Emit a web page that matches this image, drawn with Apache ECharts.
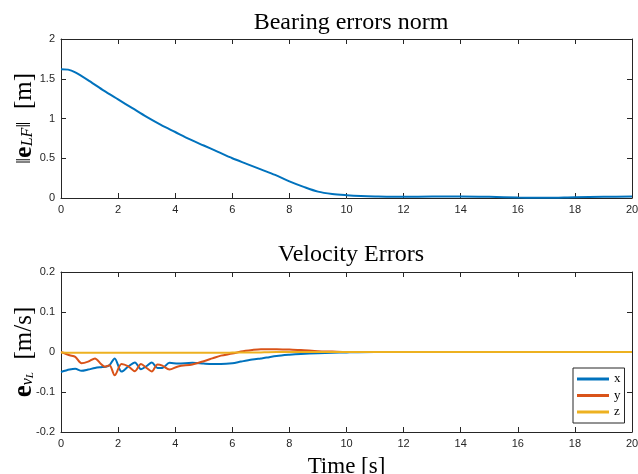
<!DOCTYPE html>
<html>
<head>
<meta charset="utf-8">
<script src="https://cdn.jsdelivr.net/npm/echarts@6/dist/echarts.min.js"></script>
<style>
  html, body { margin: 0; padding: 0; background: #fff; }
  #chart { width: 638px; height: 474px; }
</style>
</head>
<body>
<div id="chart"></div>
<script>
// bearing error norm (top plot)
const normTime = [0, 0.25, 0.5, 1, 1.5, 2, 2.5, 3, 3.5, 4, 4.5, 5, 5.5, 6, 6.5, 7, 7.5, 8, 8.5, 9, 9.5, 10, 10.5, 11, 12, 13, 14, 15, 16, 17, 18, 19, 20]
const normValues = [1.62, 1.615, 1.58, 1.47, 1.35, 1.24, 1.13, 1.02, 0.92, 0.83, 0.74, 0.66, 0.58, 0.50, 0.43, 0.36, 0.29, 0.21, 0.14, 0.08, 0.05, 0.035, 0.025, 0.02, 0.015, 0.018, 0.02, 0.015, 0.006, 0.002, 0.01, 0.015, 0.02]

// velocity errors (bottom plot)
const velTime = [0, 0.3, 0.5, 0.72, 0.95, 1.19, 1.4, 1.54, 1.7, 1.88, 2.12, 2.36, 2.59, 2.8, 3.0, 3.18, 3.38, 3.55, 3.8, 4.1, 4.6, 5.0, 5.3, 5.6, 6.0, 6.3, 6.7, 7.0, 7.2, 7.55, 8.0, 8.4, 9, 9.5, 10, 11, 12, 14, 16, 18, 20]
const velX = [-0.050, -0.044, -0.042, -0.047, -0.044, -0.040, -0.038, -0.037, -0.033, -0.016, -0.049, -0.036, -0.026, -0.043, -0.035, -0.026, -0.040, -0.040, -0.027, -0.029, -0.027, -0.029, -0.030, -0.030, -0.028, -0.024, -0.019, -0.016, -0.014, -0.010, -0.007, -0.005, -0.003, -0.002, -0.001, 0, 0, 0, 0, 0, 0]
const velY = [0, -0.008, -0.012, -0.028, -0.024, -0.016, -0.030, -0.037, -0.033, -0.058, -0.030, -0.036, -0.048, -0.030, -0.040, -0.049, -0.031, -0.034, -0.044, -0.036, -0.031, -0.023, -0.016, -0.009, -0.004, 0.001, 0.005, 0.007, 0.007, 0.007, 0.006, 0.005, 0.002, 0.001, 0, 0, 0, 0, 0, 0, 0]
const velZ = [-0.001, -0.002, -0.002, -0.002, -0.002, -0.002, -0.002, -0.002, -0.002, -0.002, -0.002, -0.002, -0.002, -0.002, -0.002, -0.002, -0.002, -0.002, -0.002, -0.002, -0.002, -0.002, -0.002, -0.002, -0.0015, -0.001, -0.001, -0.001, -0.0005, 0, 0, 0, 0, 0, 0, 0, 0, 0, 0, 0, 0]

const axisColor = '#262626'
const serif = '"Liberation Serif", "DejaVu Serif", serif'
const sans = '"Liberation Sans", Arial, sans-serif'

const zip = (t, v) => t.map((x, i) => [x, v[i]])

// one "box" axis set: labelled bottom/left, bare top/right, ticks inside
function xAxes(gridIndex, name) {
  const base = {
    gridIndex,
    type: 'value',
    min: 0,
    max: 20,
    interval: 2,
    axisLine: { show: true, onZero: false, lineStyle: { color: axisColor, width: 1 } },
    axisTick: { show: true, inside: true, length: 5, lineStyle: { color: axisColor } },
    splitLine: { show: false }
  }
  return [
    {
      ...base,
      position: 'bottom',
      axisLabel: { color: axisColor, fontFamily: sans, fontSize: 11, margin: 6 },
      name: name || '',
      nameLocation: 'middle',
      nameGap: 23,
      nameMoveOverlap: false,
      nameTextStyle: { fontFamily: serif, fontSize: 23, color: '#000' }
    },
    { ...base, position: 'top', axisLabel: { show: false } }
  ]
}

function yAxes(gridIndex, min, max, interval, name, rich) {
  const base = {
    gridIndex,
    type: 'value',
    min,
    max,
    interval,
    axisLine: { show: true, onZero: false, lineStyle: { color: axisColor, width: 1 } },
    axisTick: { show: true, inside: true, length: 5, lineStyle: { color: axisColor } },
    splitLine: { show: false }
  }
  return [
    {
      ...base,
      position: 'left',
      axisLabel: { color: axisColor, fontFamily: sans, fontSize: 11, margin: 6 },
      name,
      nameLocation: 'middle',
      nameRotate: 90,
      nameGap: 25,
      nameMoveOverlap: false,
      nameTextStyle: { fontFamily: serif, fontSize: 24, color: '#000', rich }
    },
    { ...base, position: 'right', axisLabel: { show: false } }
  ]
}

const chart = echarts.init(document.getElementById('chart'))

const titleStyle = { fontFamily: serif, fontSize: 24, fontWeight: 'normal', color: '#000' }

const option = {
  animation: false,
  backgroundColor: '#fff',
  title: [
    { text: 'Bearing errors norm', left: 346, top: 6, textAlign: 'center', textStyle: titleStyle },
    { text: 'Velocity Errors', left: 346, top: 238, textAlign: 'center', textStyle: titleStyle }
  ],
  grid: [
    { left: 61, right: 6, top: 39, height: 159, containLabel: false, outerBoundsMode: 'none' },
    { left: 61, right: 6, top: 272, height: 160, containLabel: false, outerBoundsMode: 'none' }
  ],
  legend: {
    data: ['x', 'y', 'z'],
    orient: 'vertical',
    left: 573,
    top: 368,
    padding: [4, 4, 4, 4],
    itemGap: 2.5,
    itemWidth: 32,
    itemHeight: 3,
    icon: 'rect',
    borderColor: axisColor,
    borderWidth: 1,
    backgroundColor: '#fff',
    textStyle: { fontFamily: serif, fontSize: 13, lineHeight: 14, color: '#000' }
  },
  xAxis: [...xAxes(0), ...xAxes(1, 'Time [s]')],
  yAxis: [
    ...yAxes(0, 0, 2, 0.5, '{d|‖}{b|e}{s|LF}{d|‖}{n|  [m]}', {
      d: { fontFamily: serif, fontSize: 22, fontWeight: 'normal', lineHeight: 24 },
      n: { fontFamily: serif, fontSize: 25, lineHeight: 24 },
      b: { fontFamily: serif, fontSize: 26, fontWeight: 'bold', lineHeight: 24 },
      s: { fontFamily: serif, fontSize: 16, fontStyle: 'italic', lineHeight: 12, verticalAlign: 'bottom' }
    }),
    ...yAxes(1, -0.2, 0.2, 0.1, '{b|e}{s|v}{ss|L}{n|  [m/s]}', {
      n: { fontFamily: serif, fontSize: 25, lineHeight: 24 },
      b: { fontFamily: serif, fontSize: 27, fontWeight: 'bold', lineHeight: 24 },
      s: { fontFamily: serif, fontSize: 16, fontStyle: 'italic', lineHeight: 12, verticalAlign: 'bottom' },
      ss: { fontFamily: serif, fontSize: 11, fontStyle: 'italic', lineHeight: 7, verticalAlign: 'bottom' }
    })
  ],
  series: [
    {
      name: 'norm',
      type: 'line',
      xAxisIndex: 0,
      yAxisIndex: 0,
      data: zip(normTime, normValues),
      smooth: 0.3,
      showSymbol: false,
      color: '#0072BD',
      lineStyle: { width: 2 }
    },
    {
      name: 'x',
      type: 'line',
      xAxisIndex: 2,
      yAxisIndex: 2,
      data: zip(velTime, velX),
      smooth: 0.3,
      showSymbol: false,
      color: '#0072BD',
      lineStyle: { width: 2 }
    },
    {
      name: 'y',
      type: 'line',
      xAxisIndex: 2,
      yAxisIndex: 2,
      data: zip(velTime, velY),
      smooth: 0.3,
      showSymbol: false,
      color: '#D95319',
      lineStyle: { width: 2 }
    },
    {
      name: 'z',
      type: 'line',
      xAxisIndex: 2,
      yAxisIndex: 2,
      data: zip(velTime, velZ),
      smooth: 0.3,
      showSymbol: false,
      color: '#EDB120',
      lineStyle: { width: 2 }
    }
  ]
}

chart.setOption(option)
</script>
</body>
</html>
